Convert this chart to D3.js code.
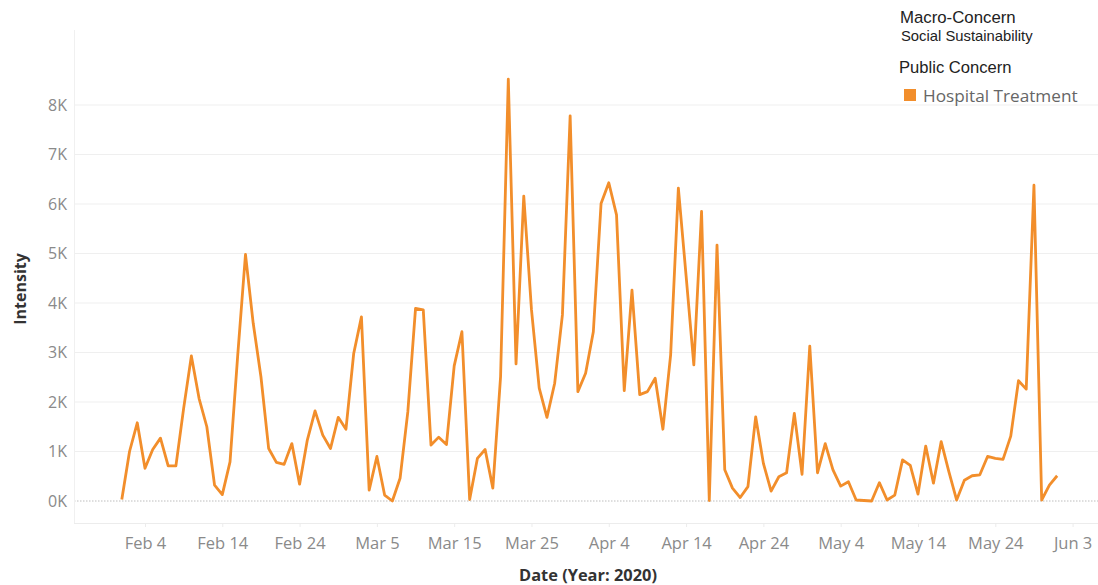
<!DOCTYPE html>
<html>
<head>
<meta charset="utf-8">
<script src="https://cdn.jsdelivr.net/npm/d3@7"></script>
<style>
  body { margin: 0; background: #fff; }
  svg { display: block; }
  .tick text { font-family: "Open Sans", Lato, sans-serif; }
</style>
</head>
<body>
<div id="chart"></div>
<script>
// daily intensity, Feb 1 .. Jun 1 2020
let firstDay = "2020-02-01";
let lastDay = "2020-06-01";
let intensity = [
    30, 1000, 1580, 660, 1040, 1270, 710, 710, 1870, 2930,
    2070, 1500, 320, 130, 790, 2950, 4980, 3590, 2510, 1060,
    780, 740, 1160, 340, 1230, 1820, 1330, 1060, 1690, 1450,
    2980, 3720, 220, 900, 120, 0, 460, 1800, 3890, 3860,
    1130, 1290, 1140, 2730, 3420, 30, 860, 1040, 260, 2510,
    8520, 2770, 6160, 3860, 2280, 1690, 2380, 3760, 7780, 2210,
    2580, 3420, 6010, 6430, 5780, 2230, 4260, 2150, 2210, 2480,
    1450, 2950, 6320, 4550, 2750, 5850, 10, 5170, 630, 260,
    70, 290, 1700, 760, 200, 490, 570, 1770, 540, 3130,
    570, 1160, 630, 300, 390, 20, 10, 0, 370, 20,
    120, 830, 720, 140, 1110, 360, 1200, 590, 20, 420,
    510, 530, 900, 860, 840, 1310, 2430, 2260, 6380, 20,
    320, 510
];
let xTicks = ["2020-02-04", "2020-02-14", "2020-02-24", "2020-03-05", "2020-03-15", "2020-03-25",
              "2020-04-04", "2020-04-14", "2020-04-24", "2020-05-04", "2020-05-14", "2020-05-24", "2020-06-03"];
let yTicks = [0, 1000, 2000, 3000, 4000, 5000, 6000, 7000, 8000];
let legendTitle = "Macro-Concern";
let legendSub = "Social Sustainability";
let colorTitle = "Public Concern";
let seriesName = "Hospital Treatment";

let parse = d3.utcParse("%Y-%m-%d");
let days = d3.utcDay.range(parse(firstDay), d3.utcDay.offset(parse(lastDay), 1));
let data = days.map((d, i) => ({date: d, value: intensity[i]}));

let width = 1098, height = 585;
let left = 74, right = 1098, bottom = 523;

let svg = d3.select("#chart").append("svg")
    .attr("width", width)
    .attr("height", height);

let x = d3.scaleUtc()
    .domain([parse("2020-02-01"), parse("2020-06-03")])
    .range([121.8, 1072.6]);

let y = d3.scaleLinear()
    .domain([0, 8000])
    .range([501, 105]);

// gridlines
svg.append("g")
    .selectAll("line")
    .data(yTicks.filter(d => d > 0))
    .enter()
    .append("line")
    .attr("x1", left).attr("x2", right)
    .attr("y1", d => y(d)).attr("y2", d => y(d))
    .attr("stroke", "#efefef")
    .attr("stroke-width", 1);

// zero line
svg.append("line")
    .attr("x1", left).attr("x2", right)
    .attr("y1", y(0)).attr("y2", y(0))
    .attr("stroke", "#bdbdbd")
    .attr("stroke-dasharray", "1.5,1.5");

// y axis
let yAxis = svg.append("g")
    .attr("transform", "translate(" + left + ",0)")
    .call(d3.axisLeft(y)
        .tickValues(yTicks)
        .tickSize(0)
        .tickPadding(7)
        .tickFormat(d => (d / 1000) + "K"));
yAxis.select(".domain").attr("stroke", "#f0f0f0");
yAxis.selectAll("text")
    .attr("fill", "#8a8a8a")
    .attr("font-size", "16px");
yAxis.select(".domain").attr("d", "M0.5,30V" + bottom);

// x axis
let xAxis = svg.append("g")
    .attr("transform", "translate(0," + bottom + ")")
    .call(d3.axisBottom(x)
        .tickValues(xTicks.map(parse))
        .tickSize(4)
        .tickPadding(10)
        .tickFormat(d3.utcFormat("%b %-d")));
xAxis.select(".domain").attr("d", "M" + left + ",0.5H" + right).attr("stroke", "#ececec");
xAxis.selectAll(".tick line").attr("stroke", "#ececec");
xAxis.selectAll("text")
    .attr("fill", "#8a8a8a")
    .attr("font-size", "16.5px");

// line
let line = d3.line()
    .x(d => x(d.date))
    .y(d => y(d.value));

svg.append("path")
    .datum(data)
    .attr("fill", "none")
    .attr("stroke", "#f28e2b")
    .attr("stroke-width", 2.8)
    .attr("stroke-linejoin", "round")
    .attr("d", line);

// axis titles
svg.append("text")
    .attr("x", 588).attr("y", 581)
    .attr("text-anchor", "middle")
    .attr("font-family", "'Open Sans', Lato, sans-serif")
    .attr("font-size", "16.4px")
    .attr("font-weight", "bold")
    .attr("fill", "#333")
    .text("Date (Year: 2020)");

svg.append("text")
    .attr("transform", "translate(26,289) rotate(-90)")
    .attr("text-anchor", "middle")
    .attr("font-family", "'Open Sans', Lato, sans-serif")
    .attr("font-size", "16px")
    .attr("font-weight", "bold")
    .attr("fill", "#333")
    .text("Intensity");

// legend
let legend = svg.append("g").attr("font-family", "'Liberation Sans', Arial, sans-serif");
legend.append("text").attr("x", 900).attr("y", 23)
    .attr("font-size", "16.8px").attr("fill", "#222").text(legendTitle);
legend.append("text").attr("x", 901).attr("y", 41)
    .attr("font-size", "14.8px").attr("fill", "#222").text(legendSub);
legend.append("text").attr("x", 899).attr("y", 73)
    .attr("font-size", "16.6px").attr("fill", "#222").text(colorTitle);
legend.append("rect").attr("x", 904).attr("y", 89)
    .attr("width", 12).attr("height", 12).attr("fill", "#f28e2b");
legend.append("text").attr("x", 923).attr("y", 102)
    .attr("font-family", "'Open Sans', Lato, sans-serif")
    .attr("font-size", "17.2px").attr("fill", "#666").text(seriesName);
</script>
</body>
</html>
